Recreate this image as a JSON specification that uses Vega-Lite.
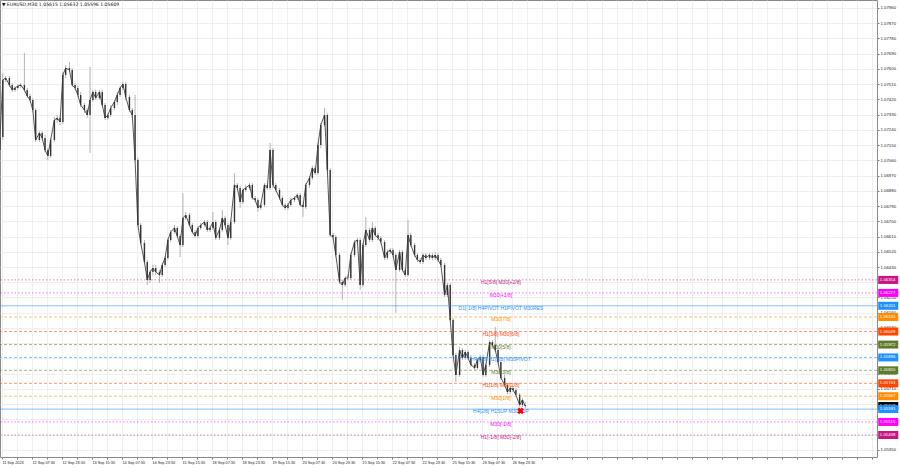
{
"$schema":"https://vega.github.io/schema/vega-lite/v6.json",
"width":877,"height":457,
"autosize":{"type":"none"},
"padding":{"left":0,"top":0,"right":23,"bottom":11},
"background":"#ffffff",
"config":{"view":{"stroke":"#8a8a8a","strokeWidth":1},"font":"Liberation Sans"},
"datasets":{
"bars":[
{"t":0,"o":1.07121,"h":1.07228,"l":1.07109,"c":1.07198},
{"t":3,"o":1.07198,"h":1.07576,"l":1.07180,"c":1.07535},
{"t":6,"o":1.07535,"h":1.07558,"l":1.07523,"c":1.07546},
{"t":10,"o":1.07546,"h":1.07558,"l":1.07493,"c":1.07505},
{"t":13,"o":1.07505,"h":1.07517,"l":1.07464,"c":1.07476},
{"t":16,"o":1.07476,"h":1.07499,"l":1.07464,"c":1.07487},
{"t":19,"o":1.07487,"h":1.07511,"l":1.07476,"c":1.07499},
{"t":22,"o":1.07499,"h":1.07517,"l":1.07487,"c":1.07505},
{"t":26,"o":1.07505,"h":1.07694,"l":1.07464,"c":1.07476},
{"t":29,"o":1.07476,"h":1.07487,"l":1.07428,"c":1.07440},
{"t":32,"o":1.07440,"h":1.07452,"l":1.07405,"c":1.07417},
{"t":35,"o":1.07417,"h":1.07428,"l":1.07346,"c":1.07357},
{"t":38,"o":1.07357,"h":1.07369,"l":1.07168,"c":1.07180},
{"t":42,"o":1.07180,"h":1.07233,"l":1.07168,"c":1.07222},
{"t":45,"o":1.07222,"h":1.07233,"l":1.07180,"c":1.07192},
{"t":48,"o":1.07192,"h":1.07210,"l":1.07109,"c":1.07121},
{"t":51,"o":1.07121,"h":1.07133,"l":1.07062,"c":1.07086},
{"t":54,"o":1.07086,"h":1.07192,"l":1.07074,"c":1.07180},
{"t":58,"o":1.07180,"h":1.07316,"l":1.07168,"c":1.07298},
{"t":61,"o":1.07298,"h":1.07328,"l":1.07281,"c":1.07310},
{"t":64,"o":1.07310,"h":1.07322,"l":1.07269,"c":1.07287},
{"t":67,"o":1.07287,"h":1.07582,"l":1.07275,"c":1.07564},
{"t":70,"o":1.07564,"h":1.07623,"l":1.07546,"c":1.07605},
{"t":74,"o":1.07605,"h":1.07641,"l":1.07582,"c":1.07594},
{"t":77,"o":1.07594,"h":1.07605,"l":1.07493,"c":1.07505},
{"t":80,"o":1.07505,"h":1.07517,"l":1.07476,"c":1.07487},
{"t":83,"o":1.07487,"h":1.07499,"l":1.07434,"c":1.07446},
{"t":86,"o":1.07446,"h":1.07464,"l":1.07375,"c":1.07387},
{"t":90,"o":1.07387,"h":1.07399,"l":1.07340,"c":1.07357},
{"t":93,"o":1.07357,"h":1.07369,"l":1.07310,"c":1.07328},
{"t":96,"o":1.07328,"h":1.07611,"l":1.07104,"c":1.07417},
{"t":99,"o":1.07417,"h":1.07476,"l":1.07405,"c":1.07464},
{"t":102,"o":1.07464,"h":1.07476,"l":1.07417,"c":1.07428},
{"t":106,"o":1.07428,"h":1.07476,"l":1.07417,"c":1.07464},
{"t":109,"o":1.07464,"h":1.07476,"l":1.07375,"c":1.07387},
{"t":112,"o":1.07387,"h":1.07399,"l":1.07298,"c":1.07310},
{"t":115,"o":1.07310,"h":1.07340,"l":1.07298,"c":1.07328},
{"t":118,"o":1.07328,"h":1.07387,"l":1.07316,"c":1.07369},
{"t":122,"o":1.07369,"h":1.07417,"l":1.07357,"c":1.07405},
{"t":125,"o":1.07405,"h":1.07464,"l":1.07387,"c":1.07446},
{"t":128,"o":1.07446,"h":1.07499,"l":1.07434,"c":1.07487},
{"t":131,"o":1.07487,"h":1.07523,"l":1.07476,"c":1.07511},
{"t":134,"o":1.07511,"h":1.07523,"l":1.07417,"c":1.07434},
{"t":138,"o":1.07434,"h":1.07446,"l":1.07346,"c":1.07357},
{"t":141,"o":1.07357,"h":1.07369,"l":1.07310,"c":1.07328},
{"t":144,"o":1.07328,"h":1.07446,"l":1.07050,"c":1.07062},
{"t":147,"o":1.07062,"h":1.07074,"l":1.06667,"c":1.06678},
{"t":150,"o":1.06678,"h":1.06690,"l":1.06560,"c":1.06572},
{"t":154,"o":1.06572,"h":1.06590,"l":1.06448,"c":1.06460},
{"t":157,"o":1.06460,"h":1.06472,"l":1.06324,"c":1.06354},
{"t":160,"o":1.06354,"h":1.06413,"l":1.06336,"c":1.06401},
{"t":163,"o":1.06401,"h":1.06442,"l":1.06383,"c":1.06424},
{"t":166,"o":1.06424,"h":1.06442,"l":1.06383,"c":1.06401},
{"t":170,"o":1.06401,"h":1.06413,"l":1.06336,"c":1.06383},
{"t":173,"o":1.06383,"h":1.06454,"l":1.06371,"c":1.06442},
{"t":176,"o":1.06442,"h":1.06495,"l":1.06430,"c":1.06484},
{"t":179,"o":1.06484,"h":1.06602,"l":1.06472,"c":1.06590},
{"t":182,"o":1.06590,"h":1.06649,"l":1.06578,"c":1.06637},
{"t":186,"o":1.06637,"h":1.06678,"l":1.06625,"c":1.06661},
{"t":189,"o":1.06661,"h":1.06672,"l":1.06602,"c":1.06613},
{"t":192,"o":1.06613,"h":1.06625,"l":1.06489,"c":1.06560},
{"t":195,"o":1.06560,"h":1.06867,"l":1.06548,"c":1.06720},
{"t":198,"o":1.06720,"h":1.06755,"l":1.06708,"c":1.06737},
{"t":202,"o":1.06737,"h":1.06749,"l":1.06667,"c":1.06678},
{"t":205,"o":1.06678,"h":1.06690,"l":1.06625,"c":1.06637},
{"t":208,"o":1.06637,"h":1.06649,"l":1.06602,"c":1.06613},
{"t":211,"o":1.06613,"h":1.06672,"l":1.06602,"c":1.06661},
{"t":214,"o":1.06661,"h":1.06690,"l":1.06649,"c":1.06678},
{"t":218,"o":1.06678,"h":1.06708,"l":1.06667,"c":1.06696},
{"t":221,"o":1.06696,"h":1.06708,"l":1.06637,"c":1.06649},
{"t":224,"o":1.06649,"h":1.06672,"l":1.06637,"c":1.06661},
{"t":227,"o":1.06661,"h":1.06755,"l":1.06649,"c":1.06696},
{"t":230,"o":1.06696,"h":1.06708,"l":1.06590,"c":1.06602},
{"t":234,"o":1.06602,"h":1.06661,"l":1.06590,"c":1.06649},
{"t":237,"o":1.06649,"h":1.06767,"l":1.06637,"c":1.06720},
{"t":240,"o":1.06720,"h":1.06732,"l":1.06667,"c":1.06678},
{"t":243,"o":1.06678,"h":1.06690,"l":1.06560,"c":1.06602},
{"t":246,"o":1.06602,"h":1.06708,"l":1.06590,"c":1.06696},
{"t":250,"o":1.06696,"h":1.06985,"l":1.06684,"c":1.06915},
{"t":253,"o":1.06915,"h":1.06926,"l":1.06885,"c":1.06897},
{"t":256,"o":1.06897,"h":1.06909,"l":1.06779,"c":1.06814},
{"t":259,"o":1.06814,"h":1.06897,"l":1.06802,"c":1.06885},
{"t":262,"o":1.06885,"h":1.06915,"l":1.06873,"c":1.06897},
{"t":266,"o":1.06897,"h":1.06926,"l":1.06885,"c":1.06915},
{"t":269,"o":1.06915,"h":1.06926,"l":1.06826,"c":1.06838},
{"t":272,"o":1.06838,"h":1.06850,"l":1.06814,"c":1.06826},
{"t":275,"o":1.06826,"h":1.06838,"l":1.06755,"c":1.06779},
{"t":278,"o":1.06779,"h":1.06808,"l":1.06767,"c":1.06797},
{"t":282,"o":1.06797,"h":1.06926,"l":1.06785,"c":1.06915},
{"t":285,"o":1.06915,"h":1.06926,"l":1.06885,"c":1.06897},
{"t":288,"o":1.06897,"h":1.07163,"l":1.06885,"c":1.07121},
{"t":291,"o":1.07121,"h":1.07133,"l":1.06897,"c":1.06915},
{"t":294,"o":1.06915,"h":1.06926,"l":1.06873,"c":1.06885},
{"t":298,"o":1.06885,"h":1.06897,"l":1.06826,"c":1.06838},
{"t":301,"o":1.06838,"h":1.06850,"l":1.06785,"c":1.06797},
{"t":304,"o":1.06797,"h":1.06808,"l":1.06767,"c":1.06779},
{"t":307,"o":1.06779,"h":1.06808,"l":1.06767,"c":1.06797},
{"t":310,"o":1.06797,"h":1.06838,"l":1.06785,"c":1.06826},
{"t":314,"o":1.06826,"h":1.06850,"l":1.06814,"c":1.06838},
{"t":317,"o":1.06838,"h":1.06867,"l":1.06826,"c":1.06856},
{"t":320,"o":1.06856,"h":1.06867,"l":1.06785,"c":1.06797},
{"t":323,"o":1.06797,"h":1.06808,"l":1.06726,"c":1.06785},
{"t":326,"o":1.06785,"h":1.06926,"l":1.06773,"c":1.06915},
{"t":330,"o":1.06915,"h":1.06968,"l":1.06897,"c":1.06956},
{"t":333,"o":1.06956,"h":1.07027,"l":1.06944,"c":1.07015},
{"t":336,"o":1.07015,"h":1.07027,"l":1.06974,"c":1.06985},
{"t":339,"o":1.06985,"h":1.07163,"l":1.06974,"c":1.07151},
{"t":342,"o":1.07151,"h":1.07281,"l":1.07133,"c":1.07269},
{"t":346,"o":1.07269,"h":1.07369,"l":1.07257,"c":1.07328},
{"t":349,"o":1.07328,"h":1.07340,"l":1.06991,"c":1.07003},
{"t":352,"o":1.07003,"h":1.07015,"l":1.06608,"c":1.06619},
{"t":355,"o":1.06619,"h":1.06631,"l":1.06596,"c":1.06608},
{"t":358,"o":1.06608,"h":1.06619,"l":1.06489,"c":1.06501},
{"t":362,"o":1.06501,"h":1.06513,"l":1.06330,"c":1.06342},
{"t":365,"o":1.06342,"h":1.06354,"l":1.06236,"c":1.06324},
{"t":368,"o":1.06324,"h":1.06377,"l":1.06312,"c":1.06365},
{"t":371,"o":1.06365,"h":1.06383,"l":1.06354,"c":1.06365},
{"t":374,"o":1.06365,"h":1.06513,"l":1.06354,"c":1.06501},
{"t":378,"o":1.06501,"h":1.06590,"l":1.06489,"c":1.06578},
{"t":381,"o":1.06578,"h":1.06602,"l":1.06566,"c":1.06590},
{"t":384,"o":1.06590,"h":1.06602,"l":1.06295,"c":1.06324},
{"t":387,"o":1.06324,"h":1.06572,"l":1.06312,"c":1.06560},
{"t":390,"o":1.06560,"h":1.06726,"l":1.06548,"c":1.06649},
{"t":394,"o":1.06649,"h":1.06661,"l":1.06578,"c":1.06590},
{"t":397,"o":1.06590,"h":1.06696,"l":1.06578,"c":1.06661},
{"t":400,"o":1.06661,"h":1.06672,"l":1.06608,"c":1.06619},
{"t":403,"o":1.06619,"h":1.06631,"l":1.06590,"c":1.06602},
{"t":406,"o":1.06602,"h":1.06613,"l":1.06566,"c":1.06578},
{"t":410,"o":1.06578,"h":1.06590,"l":1.06472,"c":1.06484},
{"t":413,"o":1.06484,"h":1.06531,"l":1.06472,"c":1.06519},
{"t":416,"o":1.06519,"h":1.06543,"l":1.06507,"c":1.06531},
{"t":419,"o":1.06531,"h":1.06543,"l":1.06489,"c":1.06501},
{"t":422,"o":1.06501,"h":1.06513,"l":1.06159,"c":1.06413},
{"t":426,"o":1.06413,"h":1.06531,"l":1.06401,"c":1.06519},
{"t":429,"o":1.06519,"h":1.06531,"l":1.06401,"c":1.06413},
{"t":432,"o":1.06413,"h":1.06424,"l":1.06371,"c":1.06383},
{"t":435,"o":1.06383,"h":1.06708,"l":1.06371,"c":1.06619},
{"t":438,"o":1.06619,"h":1.06631,"l":1.06548,"c":1.06560},
{"t":442,"o":1.06560,"h":1.06572,"l":1.06489,"c":1.06501},
{"t":445,"o":1.06501,"h":1.06513,"l":1.06460,"c":1.06472},
{"t":448,"o":1.06472,"h":1.06484,"l":1.06448,"c":1.06460},
{"t":451,"o":1.06460,"h":1.06513,"l":1.06448,"c":1.06501},
{"t":454,"o":1.06501,"h":1.06513,"l":1.06472,"c":1.06484},
{"t":458,"o":1.06484,"h":1.06513,"l":1.06472,"c":1.06501},
{"t":461,"o":1.06501,"h":1.06513,"l":1.06472,"c":1.06484},
{"t":464,"o":1.06484,"h":1.06519,"l":1.06472,"c":1.06501},
{"t":467,"o":1.06501,"h":1.06513,"l":1.06460,"c":1.06472},
{"t":470,"o":1.06472,"h":1.06484,"l":1.06430,"c":1.06442},
{"t":474,"o":1.06442,"h":1.06454,"l":1.06253,"c":1.06265},
{"t":477,"o":1.06265,"h":1.06336,"l":1.06253,"c":1.06324},
{"t":480,"o":1.06324,"h":1.06336,"l":1.06106,"c":1.06117},
{"t":483,"o":1.06117,"h":1.06129,"l":1.05899,"c":1.05911},
{"t":486,"o":1.05911,"h":1.05923,"l":1.05751,"c":1.05793},
{"t":490,"o":1.05793,"h":1.05958,"l":1.05781,"c":1.05940},
{"t":493,"o":1.05940,"h":1.05952,"l":1.05881,"c":1.05893},
{"t":496,"o":1.05893,"h":1.05940,"l":1.05881,"c":1.05928},
{"t":499,"o":1.05928,"h":1.05940,"l":1.05881,"c":1.05893},
{"t":502,"o":1.05893,"h":1.05911,"l":1.05840,"c":1.05852},
{"t":506,"o":1.05852,"h":1.05863,"l":1.05822,"c":1.05834},
{"t":509,"o":1.05834,"h":1.05893,"l":1.05822,"c":1.05881},
{"t":512,"o":1.05881,"h":1.05911,"l":1.05869,"c":1.05899},
{"t":515,"o":1.05899,"h":1.05911,"l":1.05781,"c":1.05793},
{"t":518,"o":1.05793,"h":1.05863,"l":1.05781,"c":1.05852},
{"t":522,"o":1.05852,"h":1.05999,"l":1.05840,"c":1.05987},
{"t":525,"o":1.05987,"h":1.05999,"l":1.05958,"c":1.05970},
{"t":528,"o":1.05970,"h":1.06076,"l":1.05928,"c":1.05940},
{"t":531,"o":1.05940,"h":1.05952,"l":1.05858,"c":1.05869},
{"t":534,"o":1.05869,"h":1.05881,"l":1.05763,"c":1.05775},
{"t":538,"o":1.05775,"h":1.05793,"l":1.05722,"c":1.05734},
{"t":541,"o":1.05734,"h":1.05745,"l":1.05680,"c":1.05692},
{"t":544,"o":1.05692,"h":1.05728,"l":1.05680,"c":1.05716},
{"t":547,"o":1.05716,"h":1.05728,"l":1.05692,"c":1.05704},
{"t":550,"o":1.05704,"h":1.05716,"l":1.05663,"c":1.05675},
{"t":554,"o":1.05675,"h":1.05686,"l":1.05604,"c":1.05615},
{"t":557,"o":1.05615,"h":1.05657,"l":1.05604,"c":1.05645},
{"t":560,"o":1.05615,"h":1.05632,"l":1.05596,"c":1.05609}
],
"levels":[
{"p":1.06354,"lv":"+2/8","txt":"H1[5/8] M30[+2/8]"},
{"p":1.06277,"lv":"+1/8","txt":"M30[+1/8]"},
{"p":1.06201,"lv":"8/8","txt":"D1[-1/8] H4PIVOT H1PIVOT M30RES"},
{"p":1.06135,"lv":"7/8","txt":"M30[7/8]"},
{"p":1.06049,"lv":"6/8","txt":"H1[3/8] M30[6/8]"},
{"p":1.05972,"lv":"5/8","txt":"M30[5/8]"},
{"p":1.05896,"lv":"4/8","txt":"H4[3/8] H1[2/8] M30PIVOT"},
{"p":1.05820,"lv":"3/8","txt":"M30[3/8]"},
{"p":1.05743,"lv":"2/8","txt":"H1[1/8] M30[2/8]"},
{"p":1.05667,"lv":"1/8","txt":"M30[1/8]"},
{"p":1.05591,"lv":"0/8","txt":"H4[2/8] H1SUP M30SUP"},
{"p":1.05515,"lv":"-1/8","txt":"M30[-1/8]"},
{"p":1.05438,"lv":"-2/8","txt":"H1[-1/8] M30[-2/8]"}
]
},
"layer":[
{"data":{"name":"bars"},
 "mark":{"type":"rule","color":"#a0a0a0","strokeWidth":0.8},
 "encoding":{
  "x":{"field":"t","type":"quantitative","title":null,"scale":{"domain":[0,935],"nice":false,"zero":false},
   "axis":{"values":[2,18,34,50,66,82,98,114,130,146,162,178,194,210,226,242,258,274,290,306,322,338,354,370,386,402,418,434,450,466,482,498,514,530,546,562,578,594,610,626,642,658,674,690,706,722,738,754,770,786,802,818,834,850,866,882,898,914,930],
    "tickCount":200,
    "labelExpr":"((datum.value-2)%32==0 && datum.value<=546) ? ['11 Sep 2023','12 Sep 07:30','12 Sep 23:30','13 Sep 15:30','14 Sep 07:30','14 Sep 23:30','15 Sep 15:30','18 Sep 07:30','18 Sep 23:30','19 Sep 15:30','20 Sep 07:30','20 Sep 23:30','21 Sep 15:30','22 Sep 07:30','22 Sep 23:30','25 Sep 15:30','26 Sep 07:30','26 Sep 23:30'][(datum.value-2)/32] : ''",
    "grid":true,"gridColor":"#e8e8e8","gridWidth":0.7,"tickSize":2,"tickColor":"#777","domain":false,
    "labelFontSize":3.8,"labelColor":"#222","labelAlign":"left","labelPadding":1,"labelOverlap":false,"labelBound":false,"labelFlush":false}},
  "y":{"field":"h","type":"quantitative","title":null,"scale":{"domain":[1.05308,1.08007],"nice":false,"zero":false},
   "axis":{"orient":"right","values":[1.0535,1.0544,1.0553,1.0562,1.0571,1.058,1.0589,1.0598,1.0607,1.0616,1.0625,1.0634,1.0643,1.0652,1.0661,1.067,1.0679,1.0688,1.0697,1.0706,1.0715,1.0724,1.0733,1.0742,1.0751,1.076,1.0769,1.0778,1.0787,1.0796],
    "tickCount":200,
    "format":".5f","grid":true,"gridColor":"#e8e8e8","gridWidth":0.7,"tickSize":2,"tickColor":"#777","domain":false,
    "labelFontSize":4.3,"labelColor":"#222","labelPadding":1,"labelOverlap":false,"labelBound":false,"labelFlush":false}},
  "y2":{"field":"l"}}},
{"data":{"name":"bars"},
 "mark":{"type":"line","color":"#444444","strokeWidth":0.9},
 "encoding":{"x":{"field":"t","type":"quantitative","title":null},"y":{"field":"c","type":"quantitative","title":null}}},
{"data":{"name":"bars"},
 "mark":{"type":"rule","color":"#333333","strokeWidth":1.4},
 "encoding":{"x":{"field":"t","type":"quantitative","title":null},"y":{"field":"o","type":"quantitative","title":null},"y2":{"field":"c"}}},
{"data":{"name":"levels"},
 "mark":{"type":"rule","strokeWidth":0.8,"opacity":0.7},
 "encoding":{
  "y":{"field":"p","type":"quantitative","title":null},
  "color":{"field":"lv","type":"nominal","legend":null,
   "scale":{"domain":["+2/8","+1/8","8/8","7/8","6/8","5/8","4/8","3/8","2/8","1/8","0/8","-1/8","-2/8"],
    "range":["#C71585","#FF00FF","#1E90FF","#FF8C00","#FF4500","#5F7A2A","#1E90FF","#5F7A2A","#FF4500","#FF8C00","#1E90FF","#FF00FF","#C71585"]}},
  "strokeDash":{"field":"lv","type":"nominal","legend":null,
   "scale":{"domain":["+2/8","+1/8","8/8","7/8","6/8","5/8","4/8","3/8","2/8","1/8","0/8","-1/8","-2/8"],
    "range":[[1.5,2],[1.5,2],[1,0],[3,2],[3,2],[3,2],[3,2],[3,2],[3,2],[3,2],[1,0],[1.5,2],[1.5,2]]}}}},
{"data":{"name":"levels"},
 "mark":{"type":"text","fontSize":5,"align":"center","baseline":"middle","dy":2},
 "encoding":{
  "x":{"datum":534,"type":"quantitative"},
  "y":{"field":"p","type":"quantitative","title":null},
  "text":{"field":"txt"},
  "color":{"field":"lv","type":"nominal","legend":null}}},
{"data":{"name":"bars"},
 "transform":[{"filter":"datum.t == 560"}],
 "mark":{"type":"point","shape":"M-1,-0.4H1V0.4H-1Z","filled":true,"size":400,"opacity":1,"color":"#000000","strokeWidth":0},
 "encoding":{"x":{"datum":947,"type":"quantitative"},"y":{"field":"c","type":"quantitative","title":null}}},
{"data":{"name":"bars"},
 "transform":[{"filter":"datum.t == 560"}],
 "mark":{"type":"text","fontSize":4.3,"align":"left","baseline":"middle","color":"#ffffff"},
 "encoding":{"x":{"datum":938,"type":"quantitative"},"y":{"field":"c","type":"quantitative","title":null},"text":{"field":"c","type":"quantitative","format":".5f"}}},
{"data":{"name":"levels"},
 "mark":{"type":"point","shape":"M-1,-0.4H1V0.4H-1Z","filled":true,"size":400,"opacity":1,"strokeWidth":0},
 "encoding":{"x":{"datum":947,"type":"quantitative"},"y":{"field":"p","type":"quantitative","title":null},
  "color":{"field":"lv","type":"nominal","legend":null}}},
{"data":{"name":"levels"},
 "mark":{"type":"text","fontSize":4.3,"align":"left","baseline":"middle","color":"#ffffff"},
 "encoding":{"x":{"datum":938,"type":"quantitative"},"y":{"field":"p","type":"quantitative","title":null},"text":{"field":"p","type":"quantitative","format":".5f"}}},
{"data":{"values":[{"t":555,"p":1.0558}]},
 "mark":{"type":"point","shape":"cross","angle":45,"filled":true,"size":45,"color":"#ff0000","opacity":1},
 "encoding":{"x":{"field":"t","type":"quantitative","title":null},"y":{"field":"p","type":"quantitative","title":null}}},
{"data":{"values":[{"s":"▼ EURUSD,M30  1.05615 1.05632 1.05596 1.05609"}]},
 "mark":{"type":"text","fontSize":4.6,"align":"left","baseline":"middle","color":"#111111","font":"DejaVu Sans"},
 "encoding":{"x":{"datum":2,"type":"quantitative"},"y":{"datum":1.0798,"type":"quantitative"},"text":{"field":"s"}}}
]
}
